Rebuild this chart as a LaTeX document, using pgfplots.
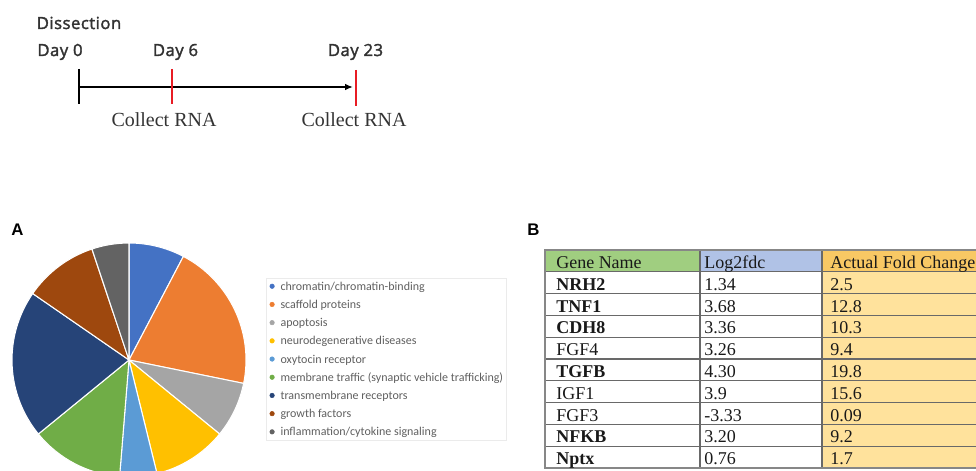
\documentclass[border=0pt]{standalone}
\usepackage{fontspec}
\usepackage{pgfplots}
\pgfplotsset{compat=1.18}
\usepackage{pgfplotstable}
\usetikzlibrary{arrows.meta}
\setmainfont{Liberation Serif}
\newfontfamily\osans[LetterSpace=3,FakeBold=2]{Open Sans}
\newfontfamily\carl{Carlito}
\newfontfamily\lsans{Liberation Sans}

\definecolor{pc1}{RGB}{68,114,196}
\definecolor{pc2}{RGB}{237,125,49}
\definecolor{pc3}{RGB}{165,165,165}
\definecolor{pc4}{RGB}{255,192,0}
\definecolor{pc5}{RGB}{91,155,213}
\definecolor{pc6}{RGB}{112,173,71}
\definecolor{pc7}{RGB}{38,68,120}
\definecolor{pc8}{RGB}{158,72,14}
\definecolor{pc9}{RGB}{99,99,99}
\definecolor{txtgray}{RGB}{50,50,50}
\definecolor{legtext}{RGB}{95,95,95}
\definecolor{tlred}{RGB}{232,28,36}
\definecolor{hgreen}{RGB}{160,206,128}
\definecolor{hblue}{RGB}{176,194,230}
\definecolor{horange}{RGB}{248,200,100}
\definecolor{byellow}{RGB}{255,226,156}
\definecolor{tline}{RGB}{105,105,105}
\definecolor{tborder}{RGB}{135,135,135}
\definecolor{tabtext}{RGB}{25,25,25}

\pgfplotsset{colormap={piecm}{rgb255=(68,114,196) rgb255=(237,125,49) rgb255=(165,165,165) rgb255=(255,192,0) rgb255=(91,155,213) rgb255=(112,173,71) rgb255=(38,68,120) rgb255=(158,72,14) rgb255=(99,99,99)}}

% pie slice marker: radius 117 px = 87.75pt
\pgfdeclareplotmark{pieslice}{%
  \pgfpathmoveto{\pgfpointorigin}%
  \pgfpathlineto{\pgfpointpolar{\wa}{87.75pt}}%
  \pgfpatharc{\wa}{\wb}{87.75pt}%
  \pgfpathclose
  \pgfusepathqfillstroke}

% pie categories (counts), start = cumulative count before the slice
\pgfplotstableread{
cat n start
0 3 0
1 8 3
2 3 11
3 4 14
4 2 18
5 5 20
6 8 25
7 4 33
8 2 37
}\piedata

\pgfplotstableread{
row gene logfc fold
1 {\bfseries NRH2} 1.34 2.5
2 {\bfseries TNF1} 3.68 12.8
3 {\bfseries CDH8} 3.36 10.3
4 FGF4 3.26 9.4
5 {\bfseries TGFB} 4.30 19.8
6 IGF1 3.9 15.6
7 FGF3 -3.33 0.09
8 {\bfseries NFKB} 3.20 9.2
9 {\bfseries Nptx} 0.76 1.7
}\genes

\newcommand\tabfont{\fontsize{13.5}{15}\selectfont}

\begin{document}
\begin{tikzpicture}
\begin{axis}[
  name=canvas,
  x=0.75pt, y=0.75pt,
  xmin=0, xmax=976, ymin=0, ymax=471,
  hide axis, clip=true,
  fp/.style={forget plot},
  tl/.style={forget plot, tline, line width=1pt},
  tb/.style={forget plot, tborder, line width=1.8pt},
  celltext/.style={forget plot, only marks, mark=none, nodes near coords,
     point meta=explicit symbolic,
     nodes near coords style={anchor=base west, inner sep=0pt, font=\tabfont, text=tabtext}},
  legend style={at={(0.2725,0.4098)}, anchor=north west, draw=black!8, fill=none,
     font=\carl\fontsize{9}{10}\selectfont, text=legtext,
     inner xsep=2.5pt, inner ysep=1pt, row sep=3.65pt, column sep=4.4pt,
     nodes={inner xsep=0pt, inner ysep=0pt, text height=8pt, text depth=2pt}},
  legend cell align=left,
]
% ---------- timeline ----------
\addplot[fp, black, line width=2pt, -{Latex[length=6pt,width=5pt]}] coordinates {(79,384) (353,384)};
\addplot[fp, black, line width=1.9pt] coordinates {(79,402) (79,367)};
\addplot[fp, tlred, line width=1.5pt] coordinates {(172,402) (172,367)};
\addplot[fp, tlred, line width=1.5pt] coordinates {(356,401) (356,365)};
\node[font=\osans\fontsize{12.5}{14}\selectfont, text=txtgray, anchor=base] at (axis cs:79,442) {Dissection};
\node[font=\osans\fontsize{12.5}{14}\selectfont, text=txtgray, anchor=base] at (axis cs:60,415) {Day 0};
\node[font=\osans\fontsize{12.5}{14}\selectfont, text=txtgray, anchor=base] at (axis cs:175.5,415) {Day 6};
\node[font=\osans\fontsize{12.5}{14}\selectfont, text=txtgray, anchor=base] at (axis cs:355.5,415) {Day 23};
\node[font=\fontsize{15}{17}\selectfont, text=black!80, anchor=base] at (axis cs:164,344) {Collect RNA};
\node[font=\fontsize{15}{17}\selectfont, text=black!80, anchor=base] at (axis cs:354,344) {Collect RNA};
% ---------- panel labels ----------
\node[font=\lsans\bfseries\fontsize{12.6}{14}\selectfont, anchor=base west, inner sep=0pt] at (axis cs:11,235) {A};
\node[font=\lsans\bfseries\fontsize{12.6}{14}\selectfont, anchor=base west, inner sep=0pt] at (axis cs:527,235) {B};
% ---------- pie (A) ----------
\addplot[forget plot, scatter, only marks, mark=pieslice,
  colormap name=piecm, point meta=\thisrow{cat}, point meta min=0, point meta max=8,
  scatter/use mapped color={draw=white, fill=mapped color},
  mark options={line width=0.8pt},
  visualization depends on={90-360*(\thisrow{start}+\thisrow{n})/39 \as \wa},
  visualization depends on={90-360*\thisrow{start}/39 \as \wb}]
  table[x expr=129, y expr=111] {\piedata};
\addlegendimage{legend image code/.code={\fill[pc1] (0pt,0pt) circle (1.7pt);}}
\addlegendentry{chromatin/chromatin-binding}
\addlegendimage{legend image code/.code={\fill[pc2] (0pt,0pt) circle (1.7pt);}}
\addlegendentry{scaffold proteins}
\addlegendimage{legend image code/.code={\fill[pc3] (0pt,0pt) circle (1.7pt);}}
\addlegendentry{apoptosis}
\addlegendimage{legend image code/.code={\fill[pc4] (0pt,0pt) circle (1.7pt);}}
\addlegendentry{neurodegenerative diseases}
\addlegendimage{legend image code/.code={\fill[pc5] (0pt,0pt) circle (1.7pt);}}
\addlegendentry{oxytocin receptor}
\addlegendimage{legend image code/.code={\fill[pc6] (0pt,0pt) circle (1.7pt);}}
\addlegendentry{membrane traffic (synaptic vehicle trafficking)}
\addlegendimage{legend image code/.code={\fill[pc7] (0pt,0pt) circle (1.7pt);}}
\addlegendentry{transmembrane receptors}
\addlegendimage{legend image code/.code={\fill[pc8] (0pt,0pt) circle (1.7pt);}}
\addlegendentry{growth factors}
\addlegendimage{legend image code/.code={\fill[pc9] (0pt,0pt) circle (1.7pt);}}
\addlegendentry{inflammation/cytokine signaling}
% ---------- table (B) ----------
\addplot[fp, fill=hgreen, draw=none] coordinates {(545,221) (700,221) (700,199.2) (545,199.2)} -- cycle;
\addplot[fp, fill=hblue, draw=none] coordinates {(700,221) (822,221) (822,199.2) (700,199.2)} -- cycle;
\addplot[fp, fill=horange, draw=none] coordinates {(822,221) (1000,221) (1000,199.2) (822,199.2)} -- cycle;
\addplot[fp, fill=byellow, draw=none] coordinates {(822,199.2) (1000,199.2) (1000,3) (822,3)} -- cycle;
\addplot[tl] coordinates {(545,199.2) (1000,199.2)};
\addplot[tl] coordinates {(545,177.4) (1000,177.4)};
\addplot[tl] coordinates {(545,155.6) (1000,155.6)};
\addplot[tl] coordinates {(545,133.8) (1000,133.8)};
\addplot[tl] coordinates {(545,112) (1000,112)};
\addplot[tl] coordinates {(545,90.2) (1000,90.2)};
\addplot[tl] coordinates {(545,68.4) (1000,68.4)};
\addplot[tl] coordinates {(545,46.6) (1000,46.6)};
\addplot[tl] coordinates {(545,24.8) (1000,24.8)};
\addplot[tl] coordinates {(700,221) (700,3)};
\addplot[tl] coordinates {(822,221) (822,3)};
\addplot[tb] coordinates {(1000,221) (545,221) (545,3) (1000,3)};
\node[font=\tabfont, text=tabtext, anchor=base west, inner sep=0pt] at (axis cs:556,202.5) {Gene Name};
\node[font=\tabfont, text=tabtext, anchor=base west, inner sep=0pt] at (axis cs:704,202.5) {Log2fdc};
\node[font=\tabfont, text=tabtext, anchor=base west, inner sep=0pt] at (axis cs:830,202.5) {Actual Fold Change};
\addplot[celltext] table[x expr=556, y expr=202.5-21.8*\thisrow{row}, meta=gene] {\genes};
\addplot[celltext] table[x expr=704, y expr=202.5-21.8*\thisrow{row}, meta=logfc] {\genes};
\addplot[celltext] table[x expr=830, y expr=202.5-21.8*\thisrow{row}, meta=fold] {\genes};
\end{axis}
\pgfresetboundingbox
\path[use as bounding box] (canvas.south west) rectangle (canvas.north east);
\end{tikzpicture}
\end{document}
